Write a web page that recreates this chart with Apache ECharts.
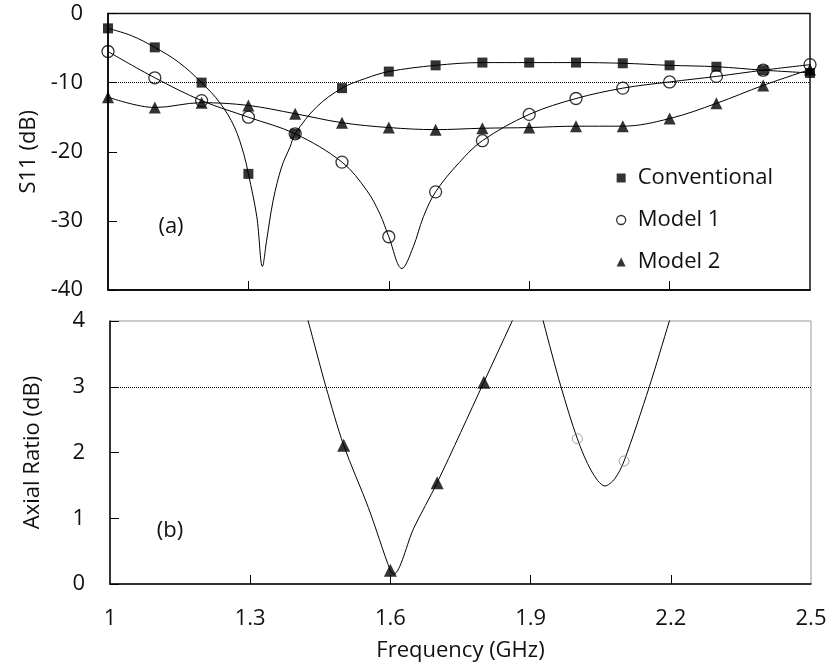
<!DOCTYPE html>
<html>
<head>
<meta charset="utf-8">
<script src="https://cdn.jsdelivr.net/npm/echarts@6/dist/echarts.min.js"></script>
<style>html,body{margin:0;padding:0;background:#fff}#c{width:832px;height:670px}</style>
</head>
<body>
<div id="c"></div>
<script>
// ---- Data ----
const freqs = [1.0,1.1,1.2,1.3,1.4,1.5,1.6,1.7,1.8,1.9,2.0,2.1,2.2,2.3,2.4,2.5];
const convS11   = [-2.15,-4.9,-10.0,-23.2,-17.4,-10.8,-8.4,-7.5,-7.1,-7.1,-7.1,-7.2,-7.5,-7.7,-8.2,-8.6];
const model1S11 = [-5.5,-9.3,-12.6,-15.0,-17.4,-21.5,-32.3,-25.8,-18.4,-14.6,-12.3,-10.8,-9.9,-9.1,-8.2,-7.4];
const model2S11 = [-12.1,-13.6,-12.9,-13.3,-14.5,-15.8,-16.5,-16.8,-16.6,-16.5,-16.3,-16.3,-15.2,-13.0,-10.4,-8.1];

// fitted curves (frequency, value)
const convCurveF = [1.0,1.05,1.1,1.15,1.2,1.24,1.27,1.29,1.3,1.318,1.33,1.339,1.353,1.371,1.389,1.4,1.446,1.5,1.55,1.6,1.7,1.8,1.9,2.0,2.1,2.2,2.3,2.4,2.5];
const convCurveV = [-2.15,-3.2,-4.9,-7.0,-10.0,-13.0,-16.4,-20.3,-23.2,-29.4,-36.6,-32.8,-27.0,-22.2,-19.3,-17.4,-13.5,-10.8,-9.4,-8.4,-7.5,-7.1,-7.1,-7.1,-7.2,-7.5,-7.7,-8.2,-8.6];
const m1CurveF = [1.0,1.1,1.2,1.3,1.4,1.5,1.553,1.581,1.6,1.628,1.652,1.674,1.7,1.75,1.8,1.9,2.0,2.1,2.2,2.3,2.4,2.5];
const m1CurveV = [-5.5,-9.3,-12.6,-15.0,-17.4,-21.5,-25.6,-29.0,-32.3,-36.9,-33.8,-29.4,-25.8,-21.6,-18.4,-14.6,-12.3,-10.8,-9.9,-9.1,-8.2,-7.4];

// axial ratio
const arM2F = [1.5,1.6,1.7,1.8];
const arM2V = [2.11,0.21,1.54,3.07];
const arM1F = [2.0,2.1];
const arM1V = [2.21,1.87];
const arM2CurveF = [1.40,1.424,1.462,1.5,1.553,1.6,1.607,1.65,1.7,1.8,1.858,1.88];
const arM2CurveV = [4.6,4.0,3.0,2.11,1.16,0.2,0.15,0.85,1.54,3.07,3.96,4.3];
const arM1CurveF = [1.91,1.927,1.965,2.0,2.03,2.059,2.08,2.1,2.154,2.197,2.21];
const arM1CurveV = [4.5,4.0,3.0,2.21,1.72,1.49,1.6,1.87,3.0,4.0,4.3];

const xTickLabels = [1,1.3,1.6,1.9,2.2,2.5];
const xTickMarks = [1.3,1.6,1.9,2.2];
const s11Threshold = -10;
const arThreshold = 3;

const zip = (a,b) => a.map((v,i)=>[v,b[i]]);
const FONT = 'Open Sans';
const TXT = '#111';

const chart = echarts.init(document.getElementById('c'), null, {renderer:'canvas'});

function xAxisCfg(grid, showLabels){
  return {
    type:'value', gridIndex:grid, min:1, max:2.5,
    axisLine:{show:true, onZero:false, lineStyle:{color:'#000', width:1.5}},
    axisTick:{show:true, inside:true, length:9, customValues:xTickMarks, lineStyle:{color:'#000', width:1}},
    axisLabel:{show:showLabels, customValues:xTickLabels, margin:24, fontSize:22, fontFamily:FONT, color:TXT},
    splitLine:{show:false}
  };
}
function yAxisCfg(grid, min, max, interval, name){
  return {
    type:'value', gridIndex:grid, min:min, max:max, interval:interval,
    axisLine:{show:true, onZero:false, lineStyle:{color:'#000', width:1.5}},
    axisTick:{show:true, inside:true, length:9, lineStyle:{color:'#000', width:1}},
    axisLabel:{margin:25, fontSize:22, fontFamily:FONT, color:TXT},
    splitLine:{show:false},
    name:name, nameLocation:'middle', nameGap:66,
    nameTextStyle:{fontSize:22, fontFamily:FONT, color:TXT}
  };
}

const curveStyle = {color:'#000', width:1};
const dotted = (v) => ({
  silent:true, symbol:['none','none'], label:{show:false},
  lineStyle:{type:'dotted', color:'#000', width:1}, data:[{yAxis:v}]
});

const xa0 = xAxisCfg(0,false);
const xa1 = xAxisCfg(1,true);
xa1.name = 'Frequency (GHz)';
xa1.nameLocation = 'middle';
xa1.nameGap = 56;
xa1.nameTextStyle = {fontSize:22, fontFamily:FONT, color:TXT};

chart.setOption({
  animation:false,
  backgroundColor:'#fff',
  grid:[
    {left:108, top:13.5, width:702, height:276.5, show:true, borderColor:'#111', borderWidth:1.5, backgroundColor:'transparent'},
    {left:110, top:321, width:701, height:263, show:true, borderColor:'#999', borderWidth:1, backgroundColor:'transparent'}
  ],
  xAxis:[xa0, xa1],
  yAxis:[yAxisCfg(0,-40,0,10,'S11 (dB)'), yAxisCfg(1,0,4,1,'Axial Ratio (dB)')],
  legend:{
    orient:'vertical', left:611, top:162, itemWidth:9, itemHeight:9, itemGap:20,
    textStyle:{fontSize:22, fontFamily:FONT, color:TXT, lineHeight:22, padding:[0,0,0,7]},
    data:[
      {name:'Conventional', icon:'rect'},
      {name:'Model 1', icon:'circle', itemStyle:{color:'rgba(0,0,0,0)', borderColor:'#000', borderWidth:1.3}},
      {name:'Model 2', icon:'triangle'}
    ]
  },
  graphic:[
    {type:'text', x:171, y:227, style:{text:'(a)', fontSize:22, fontFamily:FONT, fill:TXT, align:'center', verticalAlign:'middle'}},
    {type:'text', x:170, y:531, style:{text:'(b)', fontSize:22, fontFamily:FONT, fill:TXT, align:'center', verticalAlign:'middle'}}
  ],
  series:[
    {name:'conv curve', type:'line', xAxisIndex:0, yAxisIndex:0, data:zip(convCurveF,convCurveV), smooth:0.35, symbol:'none', lineStyle:curveStyle, z:2},
    {name:'m1 curve', type:'line', xAxisIndex:0, yAxisIndex:0, data:zip(m1CurveF,m1CurveV), smooth:0.35, symbol:'none', lineStyle:curveStyle, z:2},
    {name:'m2 curve', type:'line', xAxisIndex:0, yAxisIndex:0, data:zip(freqs,model2S11), smooth:0.35, symbol:'none', lineStyle:curveStyle, z:2, markLine:dotted(s11Threshold)},
    {name:'Conventional', type:'scatter', xAxisIndex:0, yAxisIndex:0, data:zip(freqs,convS11), symbol:'rect', symbolSize:10, itemStyle:{color:'#000'}, z:4},
    {name:'Model 1', type:'scatter', xAxisIndex:0, yAxisIndex:0, data:zip(freqs,model1S11), symbol:'circle', symbolSize:12, itemStyle:{color:'rgba(0,0,0,0)', borderColor:'#000', borderWidth:1.3}, z:4},
    {name:'Model 2', type:'scatter', xAxisIndex:0, yAxisIndex:0, data:zip(freqs,model2S11), symbol:'triangle', symbolSize:12, itemStyle:{color:'#000'}, z:4},

    {name:'ar m2 curve', type:'line', xAxisIndex:1, yAxisIndex:1, data:zip(arM2CurveF,arM2CurveV), smooth:0.3, symbol:'none', lineStyle:curveStyle, clip:true, z:2, markLine:dotted(arThreshold)},
    {name:'ar m1 curve', type:'line', xAxisIndex:1, yAxisIndex:1, data:zip(arM1CurveF,arM1CurveV), smooth:0.3, symbol:'none', lineStyle:curveStyle, clip:true, z:2},
    {name:'AR Model 2', type:'scatter', xAxisIndex:1, yAxisIndex:1, data:zip(arM2F,arM2V), symbol:'triangle', symbolSize:13, itemStyle:{color:'#000'}, z:4},
    {name:'AR Model 1', type:'scatter', xAxisIndex:1, yAxisIndex:1, data:zip(arM1F,arM1V), symbol:'circle', symbolSize:10, itemStyle:{color:'rgba(0,0,0,0)', borderColor:'#888', borderWidth:1}, z:4}
  ]
});
</script>
</body>
</html>
